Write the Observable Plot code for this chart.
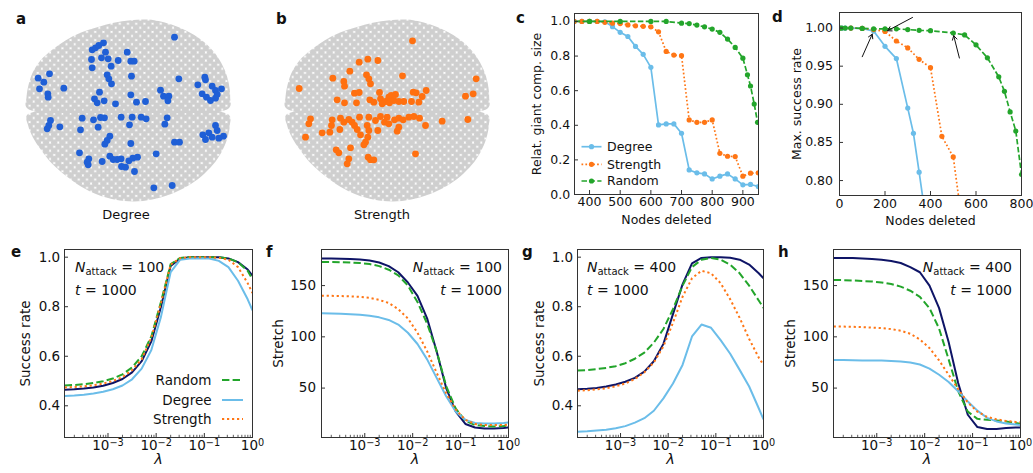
<!DOCTYPE html>
<html><head><meta charset="utf-8">
<script src="https://cdn.jsdelivr.net/npm/d3@7"></script>
<script src="https://cdn.jsdelivr.net/npm/@observablehq/plot@0.6"></script>
<style>
body{margin:0;background:#fff;}
#fig{position:relative;width:1033px;height:473px;overflow:hidden;font-family:"DejaVu Sans",sans-serif;background:#fff;}
#fig svg{position:absolute;}
</style></head><body><div id="fig"></div>
<script>
// ---------- colours ----------
const AX = "#333";
const COL = {navy:"#0e1466", random:"#23a52b", degree:"#6bbde9", strength:"#ff7615", blueNode:"#1f5fd6", orangeNode:"#ff7010", grey:"#cfcfcf"};

// ---------- panels a/b: network layout (coords in picture units) ----------
const cloudTop = [[5,278],[3,245],[10,205],[22,170],[45,135],[80,103],[120,75],[165,52],[215,35],[265,22],[315,14],[365,12],[415,20],[460,35],[505,58],[545,88],[575,122],[597,162],[610,205],[614,245],[610,278]];
const cloudBottom = [[5,298],[610,298],[613,330],[605,370],[588,410],[562,448],[528,482],[485,512],[435,536],[380,552],[325,558],[270,553],[215,537],[165,512],[120,480],[80,445],[48,405],[22,365],[8,330]];
const degreeNodes = [[447,65],[200,103],[210,97],[220,90],[234,82],[240,110],[305,110],[198,132],[228,127],[248,130],[278,135],[316,137],[326,137],[200,157],[257,152],[72,175],[38,188],[55,200],[42,220],[245,178],[250,190],[258,205],[318,182],[460,190],[538,185],[540,193],[517,208],[560,212],[588,220],[570,225],[530,235],[543,245],[575,237],[555,255],[570,248],[115,218],[67,235],[68,245],[405,224],[414,242],[430,242],[427,256],[222,230],[207,250],[215,262],[236,256],[270,265],[316,238],[333,260],[360,258],
[170,308],[204,313],[225,306],[237,307],[287,305],[320,305],[347,305],[362,310],[425,307],[75,315],[70,330],[65,340],[103,334],[165,343],[218,335],[312,328],[418,326],[570,330],[550,352],[575,345],[594,362],[560,365],[532,358],[540,372],[580,368],[253,362],[245,375],[238,386],[316,384],[447,380],[462,380],[162,412],[392,415],[190,430],[185,440],[188,448],[230,438],[253,422],[263,432],[275,432],[287,430],[310,436],[322,428],[336,425],[288,453],[300,455],[327,468],[440,510],[385,517]];
const strengthNodes = [[396,76],[236,140],[262,131],[292,135],[208,167],[366,181],[157,188],[258,178],[265,190],[270,205],[190,198],[192,212],[587,190],[56,219],[222,233],[236,231],[297,231],[398,230],[407,232],[437,225],[578,235],[555,242],[170,253],[192,262],[228,262],[268,253],[280,260],[300,250],[315,258],[325,245],[332,240],[345,237],[340,255],[355,258],[370,258],[393,258],[415,260],[425,243],[327,262],[305,265],
[90,310],[85,325],[155,313],[180,308],[190,320],[205,312],[215,320],[237,305],[265,305],[285,315],[300,303],[320,305],[312,320],[325,325],[342,313],[355,308],[368,313],[385,305],[400,303],[417,308],[435,330],[485,317],[562,312],[153,330],[148,350],[125,352],[75,365],[178,342],[222,330],[230,342],[260,330],[265,345],[262,365],[240,358],[255,380],[250,388],[292,345],[350,347],[355,335],[167,403],[175,412],[210,397],[405,415],[205,430],[200,445],[263,425],[270,433],[280,433]];

// ---------- panel c ----------
const cDegX = [350,375,400,425,450,475,500,525,550,575,600,625,650,675,700,725,750,775,800,825,850,875,900,925,950];
const cDegY = [1.0,1.0,1.0,1.0,0.998,0.97,0.937,0.913,0.856,0.81,0.735,0.402,0.408,0.408,0.354,0.142,0.125,0.119,0.09,0.106,0.119,0.09,0.056,0.058,0.046];
const cStrX = cDegX;
const cStrY = [1.0,1.0,1.0,1.0,0.995,0.99,0.988,0.98,0.975,0.972,0.969,0.94,0.827,0.806,0.802,0.431,0.417,0.417,0.431,0.238,0.221,0.219,0.106,0.123,0.125];
const cRndX = [300,400,500,600,650,700,725,750,775,800,825,850,875,900,915,925,937,948];
const cRndY = [1.0,1.0,1.0,1.0,1.0,0.99,0.988,0.979,0.969,0.956,0.937,0.898,0.85,0.788,0.692,0.627,0.523,0.417];
const cXTicks = [400,500,600,700,800,900];
const cYTicks = [0,0.2,0.4,0.6,0.8,1.0];

// ---------- panel d ----------
const dDegX = [0,10,25,50,100,150,200,250,300,325,350,375];
const dDegY = [1.0,1.0,1.0,1.0,0.9995,0.996,0.976,0.960,0.895,0.862,0.811,0.759];
const dStrX = [0,50,100,150,200,250,300,350,400,450,500,550];
const dStrY = [1.0,1.0,0.9995,0.998,0.9956,0.983,0.974,0.959,0.948,0.858,0.831,0.72];
const dRndX = [0,10,25,50,100,150,200,250,300,350,400,500,550,600,650,700,725,750,775,800];
const dRndY = [1.0,1.0,1.0,1.0,0.9995,0.999,0.999,0.999,0.998,0.997,0.9965,0.9935,0.991,0.978,0.961,0.936,0.917,0.89,0.865,0.808];
const dXTicks = [0,200,400,600,800];
const dYTicks = [0.80,0.85,0.90,0.95,1.00];
const dArrowX1 = [100,321,527], dArrowY1 = [0.9624,1.0139,0.9607];
const dArrowX2 = [144,211,502], dArrowY2 = [0.992,0.9965,0.990];

// ---------- panels e-h (lambda sweep) ----------
const lam = [0.000126,0.0002,0.000316,0.0005,0.000794,0.00126,0.002,0.00316,0.005,0.00794,0.0126,0.02,0.0316,0.05,0.0794,0.126,0.2,0.316,0.5,0.794,1];
const eNavy = [0.465,0.467,0.47,0.474,0.481,0.492,0.508,0.535,0.58,0.66,0.80,0.965,0.995,1.0,1.0,1.0,1.0,0.995,0.98,0.95,0.925];
const eRandom = [0.482,0.484,0.487,0.492,0.499,0.51,0.527,0.555,0.6,0.68,0.82,0.972,0.997,1.0,1.0,1.0,1.0,0.995,0.98,0.945,0.91];
const eDegree = [0.44,0.442,0.445,0.45,0.457,0.467,0.482,0.507,0.55,0.625,0.76,0.94,0.99,0.995,0.996,0.995,0.985,0.96,0.905,0.83,0.785];
const eStrength = [0.474,0.476,0.479,0.483,0.49,0.5,0.516,0.544,0.588,0.675,0.815,0.97,0.996,1.0,1.0,1.0,0.998,0.99,0.96,0.895,0.855];
const fNavy = [176.5,176.4,176.2,176,175.5,174.5,172.5,169,163,153,140,118,86,50,27,15,11.5,10.5,10.5,11,11.5];
const fRandom = [173,173,172.8,172.5,172,171,169,165.5,160,150,134,113,86,52,30,18,14,13,12.5,13,13.5];
const fDegree = [123,122.8,122.5,122,121.5,120.5,119,116.5,112,104,93,78,60,42,27,19,16,15.5,15.5,16,16.5];
const fStrength = [140,140,139.8,139.5,139,138,136,133,127,118,104,86,65,45,29,19,15,14,14,14,14.5];
const gNavy = [0.467,0.469,0.472,0.478,0.486,0.497,0.513,0.538,0.58,0.65,0.77,0.89,0.975,0.997,1.0,1.0,0.998,0.99,0.97,0.935,0.915];
const gRandom = [0.542,0.544,0.548,0.553,0.56,0.572,0.59,0.615,0.655,0.71,0.79,0.885,0.96,0.99,0.997,0.99,0.97,0.935,0.885,0.825,0.795];
const gDegree = [0.295,0.297,0.3,0.303,0.309,0.318,0.332,0.35,0.38,0.43,0.49,0.565,0.68,0.728,0.715,0.665,0.61,0.545,0.478,0.39,0.345];
const gStrength = [0.461,0.463,0.466,0.471,0.479,0.49,0.508,0.535,0.575,0.64,0.735,0.84,0.915,0.945,0.935,0.895,0.83,0.755,0.67,0.595,0.565];
const hNavy = [177,177,176.8,176.5,176,175.3,174,172,168,163,150,128,95,55,24,12,10,10,11,11.5,11.5];
const hRandom = [155.5,155.3,155,154.5,154,153,151.5,149,145,139,128,108,78,47,27,20,19,18.5,17.5,16,15];
const hDegree = [77.5,77.3,77.2,77,77,76.8,76.5,76,75,73,69,63,56,47,37,28,21,17.5,15.5,14.5,14];
const hStrength = [110,110,109.8,109.5,109,108.5,107.5,106,103,97.5,89,77,63,49,36,27,22,19.5,18,17,16.5];
const lamTicks = [0.001,0.01,0.1,1];
const lamTickLabels = ["10\u207B\u00B3","10\u207B\u00B2","10\u207B\u00B9","10\u2070"];
const lamMinor = [0.0002,0.0003,0.0004,0.0005,0.0006,0.0007,0.0008,0.0009,0.002,0.003,0.004,0.005,0.006,0.007,0.008,0.009,0.02,0.03,0.04,0.05,0.06,0.07,0.08,0.09,0.2,0.3,0.4,0.5,0.6,0.7,0.8,0.9];
const rateTicks = [0.4,0.6,0.8,1.0];
const stretchTicks = [50,100,150];

// ---------- build ----------
const fig = document.getElementById("fig");
const rows = (xs, ys) => xs.map((x, i) => ({x, y: ys[i]}));
const pts = a => a.map(([x, y]) => ({x, y}));
const SUP = {"\u207B": "\u2212", "\u2070": "0", "\u00B9": "1", "\u00B2": "2", "\u00B3": "3"};

function network(nodes, color, left, top, id, cdx) {
  const svg = Plot.plot({
    width: 210, height: 190, margin: 0,
    x: {domain: [0, 630], axis: null},
    y: {domain: [570, 0], axis: null},
    style: {background: "transparent", overflow: "visible"},
    marks: [
      Plot.line(pts(cloudTop), {x: "x", y: "y", curve: "catmull-rom-closed", fill: `url(#${id})`, stroke: "none", dx: cdx}),
      Plot.line(pts(cloudBottom), {x: "x", y: "y", curve: "catmull-rom-closed", fill: `url(#${id})`, stroke: "none", dx: cdx}),
      Plot.dot(pts(nodes), {x: "x", y: "y", r: 3.4, fill: color, stroke: "none"})
    ]
  });
  const p = d3.select(svg).insert("defs", ":first-child").append("pattern")
    .attr("id", id).attr("patternUnits", "userSpaceOnUse").attr("width", 8.2).attr("height", 8.2);
  for (const [cx, cy] of [[4.1,4.1],[0,0],[8.2,0],[0,8.2],[8.2,8.2]])
    p.append("circle").attr("cx", cx).attr("cy", cy).attr("r", 3.2).attr("fill", COL.grey);
  svg.style.left = left + "px"; svg.style.top = top + "px";
  fig.appendChild(svg);
}

function chart(o) {
  const ml = 70, mr = 22, mt = 10, mb = 48;
  const fw = o.fx1 - o.fx0, fh = o.fy1 - o.fy0;
  const marks = [];
  for (const s of o.series) {
    const data = rows(s.x, s.y);
    marks.push(Plot.line(data, {x: "x", y: "y", stroke: s.color, strokeWidth: s.w, strokeDasharray: s.dash, strokeLinecap: "butt", strokeLinejoin: "round", clip: true}));
    if (s.r) marks.push(Plot.dot(data, {x: "x", y: "y", r: s.r, fill: s.color, stroke: "none", clip: true}));
  }
  if (o.extra) marks.push(...o.extra);
  if (o.minor) marks.push(Plot.tickX(o.minor, {x: d => d, insetTop: fh - 2.2, stroke: AX, strokeWidth: 0.8}));
  marks.push(Plot.tickX(o.xTicks, {x: d => d, insetTop: fh - 4, stroke: AX}));
  marks.push(Plot.tickY(o.yTicks, {y: d => d, insetRight: fw - 4, stroke: AX}));
  marks.push(Plot.axisX({ticks: o.xTicks, tickFormat: o.xFmt, tickSize: 0, tickPadding: o.xPad, label: null}));
  marks.push(Plot.axisY({ticks: o.yTicks, tickFormat: o.yFmt, tickSize: 0, tickPadding: o.yPad, label: null}));
  marks.push(Plot.frame({stroke: AX, strokeWidth: 1}));
  marks.push(Plot.text([o.yLabel], {text: d => d, frameAnchor: "left", textAnchor: "middle", lineAnchor: "middle", rotate: -90, dx: o.yLabelDx, fontSize: o.fs}));
  marks.push(Plot.text([o.xLabel], {text: d => d, frameAnchor: "bottom", textAnchor: "middle", lineAnchor: "middle", dy: o.xLabelDy, fontSize: o.xLabelFs || o.fs, fontStyle: o.xLabelStyle || "normal"}));
  const svg = Plot.plot({
    width: fw + ml + mr, height: fh + mt + mb,
    marginLeft: ml, marginRight: mr, marginTop: mt, marginBottom: mb,
    x: o.x, y: o.y,
    style: {background: "transparent", overflow: "visible", fontFamily: "DejaVu Sans", fontSize: o.fs + "px", color: "#111", maxWidth: "none"},
    marks
  });
  if (o.sup) {
    // render 10^k labels with a real raised exponent
    d3.select(svg).selectAll('g[aria-label="x-axis tick label"] text').each(function() {
      const s = this.textContent;
      if (!s.startsWith("10") || s.length < 3) return;
      const ex = Array.from(s.slice(2)).map(ch => SUP[ch] || ch).join("");
      this.textContent = "10";
      d3.select(this).append("tspan").attr("dy", "-0.42em").attr("font-size", "0.72em").text(ex);
    });
  }
  svg.style.left = (o.fx0 - ml) + "px"; svg.style.top = (o.fy0 - mt) + "px";
  fig.appendChild(svg);
}

network(degreeNodes, COL.blueNode, 25, 15, "dotsA", 0);
network(strengthNodes, COL.orangeNode, 280, 15, "dotsB", 4);

const f1 = d3.format(".1f"), f2 = d3.format(".2f");
const lamFmt = d => lamTickLabels[lamTicks.indexOf(d)];

chart({fx0: 574, fx1: 758, fy0: 13, fy1: 194, fs: 12.5,
  x: {domain: [351, 951]}, y: {domain: [0, 1.046]},
  xTicks: cXTicks, yTicks: cYTicks, xFmt: d => String(d), yFmt: f1, xPad: 3, yPad: 4.3,
  yLabel: "Relat. giant comp. size", yLabelDx: -37.5, xLabel: "Nodes deleted", xLabelDy: 25,
  series: [
    {x: cDegX, y: cDegY, color: COL.degree, w: 1.7, r: 2.6},
    {x: cStrX, y: cStrY, color: COL.strength, w: 1.7, r: 2.6, dash: "1.7,2.2"},
    {x: cRndX, y: cRndY, color: COL.random, w: 1.7, r: 2.6, dash: "5.5,2.4"}
  ]});

chart({fx0: 839, fx1: 1021, fy0: 12, fy1: 195, fs: 12.5,
  x: {domain: [0, 800]}, y: {domain: [0.7804, 1.0204]},
  xTicks: dXTicks, yTicks: dYTicks, xFmt: d => String(d), yFmt: f2, xPad: 4, yPad: 6.5,
  yLabel: "Max. success rate", yLabelDx: -42.5, xLabel: "Nodes deleted", xLabelDy: 25,
  series: [
    {x: dDegX, y: dDegY, color: COL.degree, w: 1.7, r: 2.6},
    {x: dStrX, y: dStrY, color: COL.strength, w: 1.7, r: 2.6, dash: "1.7,2.2"},
    {x: dRndX, y: dRndY, color: COL.random, w: 1.7, r: 2.6, dash: "5.5,2.4"}
  ],
  extra: [Plot.arrow(dArrowX1.map((x1, i) => ({x1, y1: dArrowY1[i], x2: dArrowX2[i], y2: dArrowY2[i]})),
    {x1: "x1", y1: "y1", x2: "x2", y2: "y2", stroke: "#111", strokeWidth: 1, headLength: 7})]
});

function lamSeries(navy, random, degree, strength) {
  return [
    {x: lam, y: navy, color: COL.navy, w: 2},
    {x: lam, y: random, color: COL.random, w: 2, dash: "7.4,3.2"},
    {x: lam, y: degree, color: COL.degree, w: 2},
    {x: lam, y: strength, color: COL.strength, w: 2, dash: "2.2,2.8"}
  ];
}
const lamBase = {fy0: 249, fy1: 437, fs: 13.5, x: {type: "log", domain: [1.25e-4, 1]},
  xTicks: lamTicks, xFmt: lamFmt, minor: lamMinor, xPad: 3, sup: true,
  xLabel: "\u03BB", xLabelDy: 22, xLabelFs: 14.5, xLabelStyle: "italic"};

chart({...lamBase, fx0: 64, fx1: 252, y: {domain: [0.272, 1.031]}, yTicks: rateTicks, yFmt: f1, yPad: 4.3,
  yLabel: "Success rate", yLabelDx: -39, series: lamSeries(eNavy, eRandom, eDegree, eStrength)});
chart({...lamBase, fx0: 321, fx1: 508, y: {domain: [1.8, 185.2]}, yTicks: stretchTicks, yFmt: d => String(d), yPad: 5.5,
  yLabel: "Stretch", yLabelDx: -42.5, series: lamSeries(fNavy, fRandom, fDegree, fStrength)});
chart({...lamBase, fx0: 577, fx1: 763, y: {domain: [0.272, 1.031]}, yTicks: rateTicks, yFmt: f1, yPad: 4.3,
  yLabel: "Success rate", yLabelDx: -38, series: lamSeries(gNavy, gRandom, gDegree, gStrength)});
chart({...lamBase, fx0: 833, fx1: 1020, y: {domain: [1.8, 185.2]}, yTicks: stretchTicks, yFmt: d => String(d), yPad: 5,
  yLabel: "Stretch", yLabelDx: -42.5, series: lamSeries(hNavy, hRandom, hDegree, hStrength)});

// ---------- overlay: panel letters, captions, annotations, legends ----------
const ov = d3.create("svg").attr("width", 1033).attr("height", 473)
  .style("left", "0px").style("top", "0px").style("pointer-events", "none")
  .attr("font-family", "DejaVu Sans").attr("fill", "#111");
const letters = [["a",16,24],["b",276,24],["c",516,23],["d",772,22],["e",11,257],["f",266,257],["g",522,257],["h",778,257]];
for (const [s, x, y] of letters)
  ov.append("text").attr("x", x).attr("y", y).attr("font-size", 15).attr("font-weight", "bold").text(s);
ov.append("text").attr("x", 126).attr("y", 219).attr("font-size", 13).attr("text-anchor", "middle").text("Degree");
ov.append("text").attr("x", 382).attr("y", 219).attr("font-size", 13).attr("text-anchor", "middle").text("Strength");

function nAttack(x, y, anchor, n) {
  const t = ov.append("text").attr("x", x).attr("y", y).attr("font-size", 14).attr("text-anchor", anchor);
  t.append("tspan").attr("font-style", "italic").text("N");
  t.append("tspan").attr("font-size", 10).attr("dy", 3).text("attack");
  t.append("tspan").attr("dy", -3).text(" = " + n);
  const t2 = ov.append("text").attr("x", x).attr("y", y + 23).attr("font-size", 14).attr("text-anchor", anchor);
  t2.append("tspan").attr("font-style", "italic").text("t");
  t2.append("tspan").text(" = 1000");
}
nAttack(75, 272, "start", 100);
nAttack(502, 272, "end", 100);
nAttack(587, 272, "start", 400);
nAttack(1012, 272, "end", 400);

// legend c
const legC = [["Degree", COL.degree, null, 146.7], ["Strength", COL.strength, "1.7,2.2", 164.3], ["Random", COL.random, "5.5,2.4", 181]];
for (const [lab, c, dash, y] of legC) {
  ov.append("line").attr("x1", 581.5).attr("x2", 601.5).attr("y1", y).attr("y2", y).attr("stroke", c).attr("stroke-width", 1.7).attr("stroke-dasharray", dash);
  ov.append("circle").attr("cx", 591.5).attr("cy", y).attr("r", 2.6).attr("fill", c);
  ov.append("text").attr("x", 607).attr("y", y).attr("dy", "0.35em").attr("font-size", 12.5).text(lab);
}
// legend e
const legE = [["Random", COL.random, "7.4,3.2", 380], ["Degree", COL.degree, null, 400], ["Strength", COL.strength, "2.2,2.8", 419]];
for (const [lab, c, dash, y] of legE) {
  ov.append("line").attr("x1", 222).attr("x2", 243).attr("y1", y).attr("y2", y).attr("stroke", c).attr("stroke-width", 2).attr("stroke-dasharray", dash);
  ov.append("text").attr("x", 211.5).attr("y", y).attr("dy", "0.35em").attr("font-size", 13.5).attr("text-anchor", "end").text(lab);
}
fig.appendChild(ov.node());
</script></body></html>
